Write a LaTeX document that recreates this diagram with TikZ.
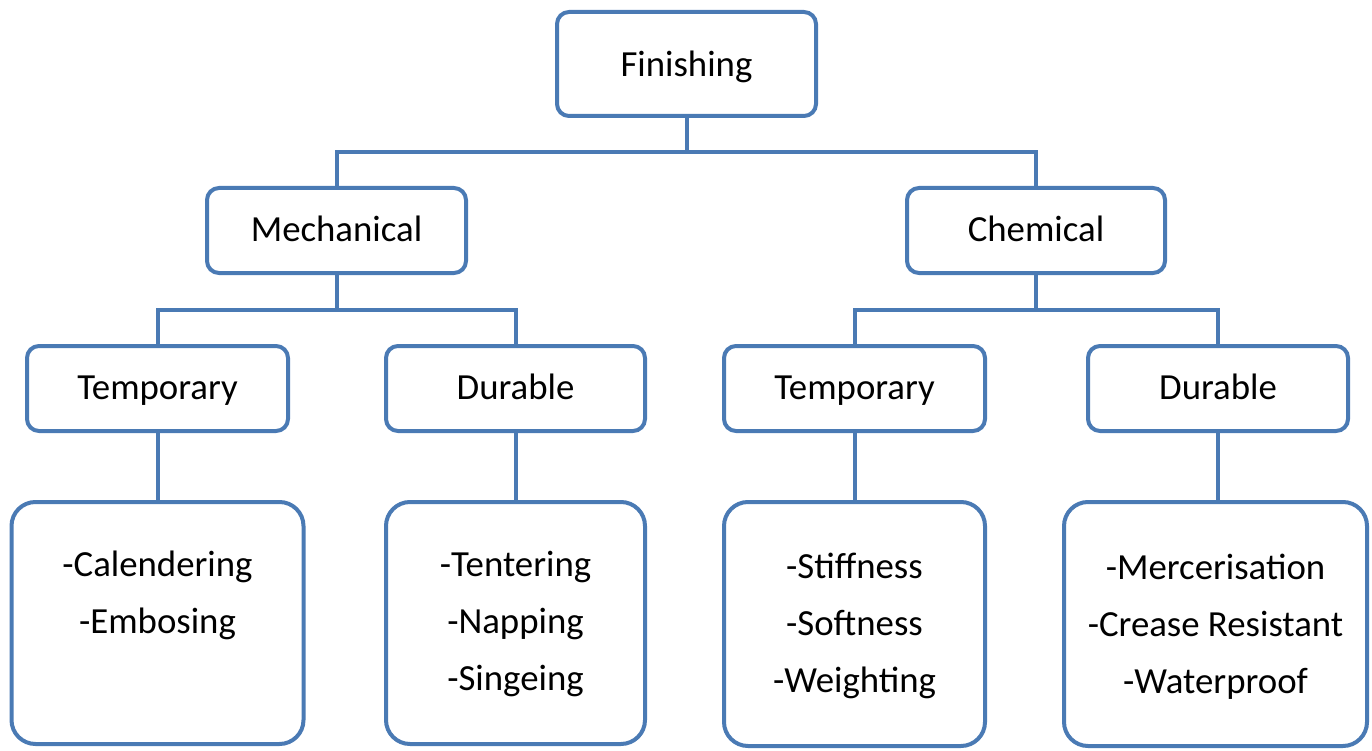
\documentclass[tikz,border=0pt]{standalone}
\usepackage{fontspec}
\setmainfont{Carlito}
\usetikzlibrary{calc}
\definecolor{boxblue}{HTML}{4A7AB4}
\tikzset{
  base/.style={draw=boxblue, line width=4pt, fill=white, inner sep=0pt,
               font=\fontsize{36.8}{44}\selectfont},
  catbox/.style={base, rounded corners=12pt, minimum height=85pt,
                 text height=30pt, text depth=8pt},
  listbox/.style={base, rounded corners=24pt},
  listtext/.style={anchor=north, align=center, inner sep=0pt,
                   font=\fontsize{36.8}{57}\selectfont},
  link/.style={draw=boxblue, line width=4pt},
  elbow/.style={to path={-- ($(\tikztostart)!0.5!(\tikztostart |- \tikztotarget)$) -| (\tikztotarget)}}
}
\begin{document}
\begin{tikzpicture}[x=1pt,y=-1pt]
\useasboundingbox (0,0) rectangle (1372,751);

% root
\node[catbox, minimum width=259pt, minimum height=104pt, text height=34pt, text depth=8pt] (fin) at (686.5,64) {Finishing};

% second level
\node[catbox, minimum width=259pt] (mech) at (336.5,230.5) {Mechanical};
\node[catbox, minimum width=258pt] (chem) at (1036,230.5) {Chemical};

% third level
\node[catbox, minimum width=261pt] (mtemp) at (157.5,388.5) {Temporary};
\node[catbox, minimum width=259pt] (mdur)  at (515.5,388.5) {Durable};
\node[catbox, minimum width=261pt] (ctemp) at (854.5,388.5) {Temporary};
\node[catbox, minimum width=260pt] (cdur)  at (1218,388.5) {Durable};

% process lists
\node[listbox, minimum width=292pt, minimum height=242pt] (mtl) at (157.5,623) {};
\node[listbox, minimum width=259pt, minimum height=242pt] (mdl) at (515.5,623) {};
\node[listbox, minimum width=261pt, minimum height=244pt] (ctl) at (854.5,624) {};
\node[listbox, minimum width=303pt, minimum height=244pt] (cdl) at (1215.5,624) {};

\node[listtext] (mtx) at ($(mtl.north)+(0,51)$) {-Calendering\\-Embosing};
\node[listtext] (mdx) at ($(mdl.north)+(0,51)$) {-Tentering\\-Napping\\-Singeing};
\node[listtext] (ctx) at ($(ctl.north)+(0,53)$) {-Stiffness\\-Softness\\-Weighting};
\node[listtext] (cdx) at ($(cdl.north)+(0,54)$) {-Mercerisation\\-Crease Resistant\\-Waterproof};

% connectors
\path[link] (fin.south) to[elbow] (mech.north);
\path[link] (fin.south) to[elbow] (chem.north);
\path[link] (mech.south) to[elbow] (mtemp.north);
\path[link] (mech.south) to[elbow] (mdur.north);
\path[link] (chem.south) to[elbow] (ctemp.north);
\path[link] (chem.south) to[elbow] (cdur.north);
\draw[link] (mtemp.south) -- (mtemp.south |- mtl.north);
\draw[link] (mdur.south) -- (mdur.south |- mdl.north);
\draw[link] (ctemp.south) -- (ctemp.south |- ctl.north);
\draw[link] (cdur.south) -- (cdur.south |- cdl.north);
\end{tikzpicture}
\end{document}
